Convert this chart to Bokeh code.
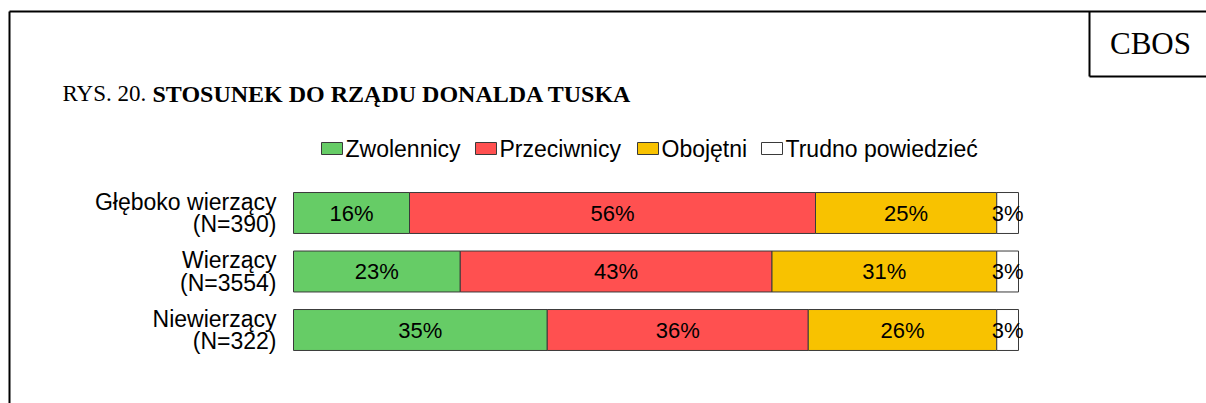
from bokeh.plotting import figure
from bokeh.models import ColumnDataSource, Range1d
from bokeh.core.properties import value
from bokeh.embed import file_html
from bokeh.resources import INLINE

# ---- data ----
groups = ["Głęboko wierzący", "Wierzący", "Niewierzący"]
group_n = ["(N=390)", "(N=3554)", "(N=322)"]
series = ["Zwolennicy", "Przeciwnicy", "Obojętni", "Trudno powiedzieć"]
zwolennicy = [16, 23, 35]
przeciwnicy = [56, 43, 36]
obojetni = [25, 31, 26]
trudno = [3, 3, 3]
colors = ["#66CC66", "#FF5050", "#F8C200", "#FFFFFF"]
title_prefix = "RYS. 20. "
title_main = "STOSUNEK DO RZĄDU DONALDA TUSKA"
source_label = "CBOS"

# ---- layout ----
W, H = 1206, 403
PX_PER_PCT = 7.25
X0_PX = 293
ROW_PX = 58.5
ROW0_PX = 212.5

x_start = -X0_PX / PX_PER_PCT
x_end = x_start + W / PX_PER_PCT
nrows = len(groups)
y_top_val = (nrows - 1) + ROW0_PX / ROW_PX
y_bot_val = y_top_val - H / ROW_PX


def X(px):
    return x_start + px / PX_PER_PCT


def Y(py):
    return y_top_val - py / ROW_PX


SANS = value("Liberation Sans")
SERIF = value("Liberation Serif")

p = figure(width=W, height=H, output_backend="svg", toolbar_location=None,
           x_range=Range1d(x_start, x_end), y_range=Range1d(y_bot_val, y_top_val),
           x_axis_location=None, y_axis_location=None, min_border=0)
p.outline_line_color = None
p.xgrid.visible = False
p.ygrid.visible = False
p.background_fill_color = "white"
p.border_fill_color = "white"

ys = [nrows - 1 - i for i in range(nrows)]
vals = [zwolennicy, przeciwnicy, obojetni, trudno]

left = [0.0] * nrows
for j, (name, v) in enumerate(zip(series, vals)):
    right = [l + a for l, a in zip(left, v)]
    src = ColumnDataSource(dict(y=ys, left=left, right=right,
                                mid=[(l + r) / 2 for l, r in zip(left, right)],
                                lab=[f"{a}%" for a in v]))
    p.hbar(y="y", left="left", right="right", height=0.70, source=src,
           fill_color=colors[j], line_color="#3a3a3a", line_width=1)
    p.text(x="mid", y="y", text="lab", source=src, text_align="center",
           text_baseline="middle", text_font=SANS, text_font_size="22px",
           text_color="black")
    left = right

# group labels (two lines)
lab_src = ColumnDataSource(dict(
    x=[X(276)] * nrows,
    y1=[y + 11.5 / ROW_PX for y in ys],
    y2=[y - 11 / ROW_PX for y in ys],
    t1=groups, t2=group_n))
p.text(x="x", y="y1", text="t1", source=lab_src, text_align="right",
       text_baseline="middle", text_font=SANS, text_font_size="23px", text_color="black")
p.text(x="x", y="y2", text="t2", source=lab_src, text_align="right",
       text_baseline="middle", text_font=SANS, text_font_size="23px", text_color="black")

# legend
leg_x = [321, 475, 637, 761]
leg_y = 148
for j, name in enumerate(series):
    sx = leg_x[j]
    p.quad(left=[X(sx)], right=[X(sx + 21)], top=[Y(leg_y - 6)], bottom=[Y(leg_y + 6)],
           fill_color=colors[j], line_color="#3a3a3a", line_width=1)
    p.text(x=[X(sx + 24)], y=[Y(leg_y)], text=[name], text_align="left",
           text_baseline="middle", text_font=SANS, text_font_size="23px", text_color="black")

# title
p.text(x=[X(62)], y=[Y(93)], text=[title_prefix], text_align="left", text_baseline="middle",
       text_font=SERIF, text_font_size="23px", text_color="black")
p.text(x=[X(152)], y=[Y(93)], text=[title_main], text_align="left", text_baseline="middle",
       text_font=SERIF, text_font_size="24px", text_font_style="bold", text_color="black")

# frame
p.line(x=[X(9), X(9)], y=[Y(11), Y(H + 20)], line_color="black", line_width=2)
p.line(x=[X(9), X(W + 20)], y=[Y(11), Y(11)], line_color="black", line_width=2)
p.line(x=[X(1089), X(1089)], y=[Y(11), Y(76)], line_color="black", line_width=2)
p.line(x=[X(1089), X(W + 20)], y=[Y(76), Y(76)], line_color="black", line_width=2)
p.text(x=[X(1150)], y=[Y(43)], text=[source_label], text_align="center", text_baseline="middle",
       text_font=SERIF, text_font_size="31px", text_color="black")

open("out.html", "w").write(file_html(p, INLINE))
